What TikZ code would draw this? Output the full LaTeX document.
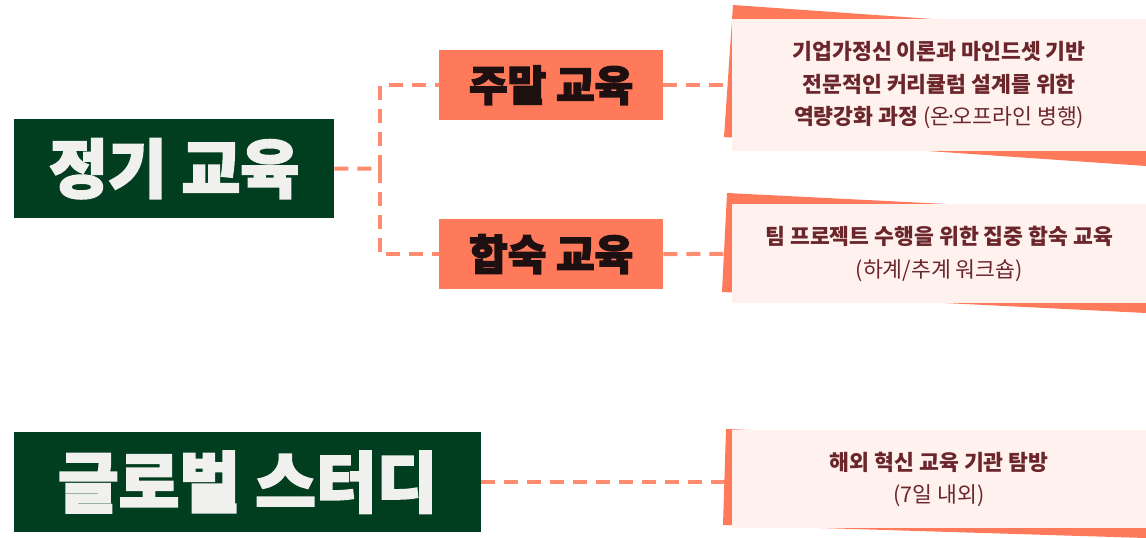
\documentclass[tikz,border=0pt]{standalone}
\usepackage{fontspec}
\newfontfamily\kr{Noto Sans CJK KR}
\newfontfamily\krheavy[FakeBold=3]{Noto Sans CJK KR}
\definecolor{dgreen}{RGB}{1,61,31}
\definecolor{coral}{RGB}{255,122,90}
\definecolor{dashc}{RGB}{255,140,110}
\definecolor{pinkbg}{RGB}{255,242,238}
\definecolor{maroon}{RGB}{107,38,43}
\definecolor{lightw}{RGB}{240,240,238}
\definecolor{inkdark}{RGB}{30,16,16}
\pgfdeclarelayer{bg}
\pgfsetlayers{bg,main}
\tikzset{
  greenbox/.style={fill=dgreen, inner sep=0pt, anchor=north west, text=lightw},
  coralbox/.style={fill=coral, inner sep=0pt, anchor=north west, text=inkdark,
    minimum width=224pt, minimum height=70pt,
    font={\krheavy\bfseries\fontsize{42}{42}\selectfont}},
  descbox/.style={fill=pinkbg, inner sep=0pt, anchor=north west, text=maroon,
    minimum width=414pt, align=center,
    font={\kr\fontsize{21.6}{32.5}\selectfont}},
  dashline/.style={draw=dashc, line width=4pt, dash pattern=on 14pt off 9pt},
  tilt/.style={fill=coral}
}
\begin{document}
\begin{tikzpicture}[x=1pt,y=-1pt]
\useasboundingbox (0,0) rectangle (1146,538);
% left boxes
\node[greenbox, minimum width=320pt, minimum height=99pt,
  font={\krheavy\bfseries\fontsize{64}{64}\selectfont}] (reg) at (14,119) {정기 교육};
\node[greenbox, minimum width=467pt, minimum height=100pt,
  font={\krheavy\bfseries\fontsize{66}{66}\selectfont}] (glob) at (14,432) {글로벌 스터디};
% middle boxes
\node[coralbox] (jumal) at (439,50) {주말 교육};
\node[coralbox] (hap) at (439,219) {합숙 교육};
% description boxes
\node[descbox, minimum height=132pt] (d1) at (732,19)
  {{\bfseries 기업가정신 이론과 마인드셋 기반}\\{\bfseries 전문적인 커리큘럼 설계를 위한}\\{\bfseries 역량강화 과정} (온\kern-0.22em·\kern-0.22em오프라인 병행)};
\node[descbox, minimum height=99pt] (d2) at (732,204)
  {{\bfseries 팀 프로젝트 수행을 위한 집중 합숙 교육}\\(하계/추계 워크숍)};
\node[descbox, minimum height=98pt] (d3) at (732,430)
  {{\bfseries 해외 혁신 교육 기관 탐방}\\(7일 내외)};
\coordinate (jn) at (380,168.5);
\begin{pgfonlayer}{bg}
  \draw[dashline] (reg.east) -- (jn);
  \draw[dashline] (jn) |- (jumal.west);
  \draw[dashline] (jn) |- (hap.west);
  \draw[dashline] (jumal.east) -- (d1.west);
  \draw[dashline] (hap.east) -- (d2.west);
  \draw[dashline] (glob.east) -- (glob.east -| d3.west);
  % tilted coral backdrops
  \fill[tilt] (733,5) -- (1146,34) -- (1146,166) -- (724,137) -- cycle;
  \fill[tilt] (727,193) -- (1146,214) -- (1146,313) -- (722,292) -- cycle;
  \fill[tilt] (726,429) -- (1146,446) -- (1146,538) -- (723,525) -- cycle;
\end{pgfonlayer}
\end{tikzpicture}
\end{document}
